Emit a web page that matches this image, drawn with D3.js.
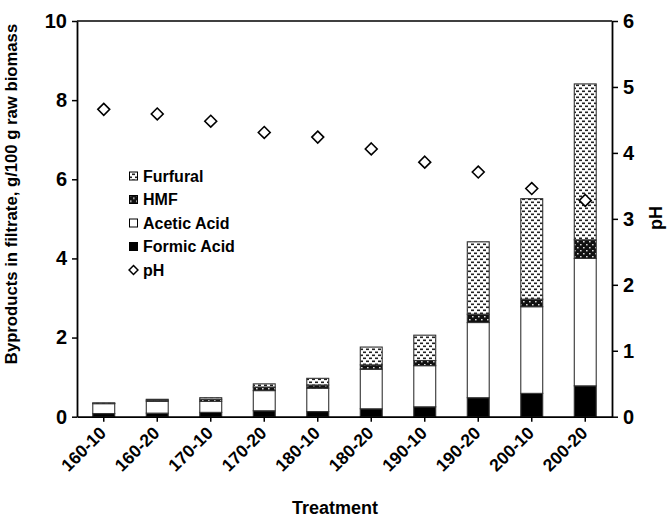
<!DOCTYPE html>
<html>
<head>
<meta charset="utf-8">
<script src="https://cdn.jsdelivr.net/npm/d3@7/dist/d3.min.js"></script>
<style>
  html, body { margin: 0; padding: 0; background: #fff; }
  svg { display: block; font-family: "Liberation Sans", Arial, sans-serif; font-weight: bold; }
</style>
</head>
<body>
<svg id="chart" width="670" height="520"></svg>
<script>
// Treatments (temperature-time) along the x axis
const categories = ["160-10","160-20","170-10","170-20","180-10","180-20","190-10","190-20","200-10","200-20"];
// Byproducts, g/100 g raw biomass (stacked bottom to top)
const formic   = [0.08, 0.09, 0.11, 0.15, 0.13, 0.20, 0.25, 0.48, 0.59, 0.78];
const acetic   = [0.25, 0.30, 0.28, 0.51, 0.59, 1.00, 1.04, 1.90, 2.19, 3.22];
const hmf      = [0.01, 0.03, 0.05, 0.09, 0.08, 0.11, 0.13, 0.21, 0.19, 0.47];
const furfural = [0.01, 0.02, 0.04, 0.08, 0.17, 0.45, 0.64, 1.83, 2.54, 3.94];
// Filtrate pH (right axis)
const pH = [4.66, 4.59, 4.48, 4.31, 4.24, 4.06, 3.86, 3.71, 3.46, 3.28];
// Axis ticks
const leftTicks = [0, 2, 4, 6, 8, 10];
const rightTicks = [0, 1, 2, 3, 4, 5, 6];

const seriesKeys = ["formic", "acetic", "hmf", "furfural"];
const seriesNames = { formic: "Formic Acid", acetic: "Acetic Acid", hmf: "HMF", furfural: "Furfural" };
const seriesFill = { formic: "#000", acetic: "#fff", hmf: "url(#hmfPat)", furfural: "url(#furPat)" };

const rows = categories.map((c, i) => ({
  cat: c, formic: formic[i], acetic: acetic[i], hmf: hmf[i], furfural: furfural[i]
}));

const svg = d3.select("#chart");
svg.append("rect").attr("width", 670).attr("height", 520).attr("fill", "#fff");

// Fill patterns
const defs = svg.append("defs");
const fp = defs.append("pattern").attr("id", "furPat").attr("patternUnits", "userSpaceOnUse")
  .attr("width", 6).attr("height", 6);
fp.append("rect").attr("width", 6).attr("height", 6).attr("fill", "#fff");
fp.append("rect").attr("x", 0).attr("y", 0.5).attr("width", 3).attr("height", 1.6).attr("fill", "#222");
fp.append("rect").attr("x", 3).attr("y", 3.5).attr("width", 3).attr("height", 1.6).attr("fill", "#222");

const hp = defs.append("pattern").attr("id", "hmfPat").attr("patternUnits", "userSpaceOnUse")
  .attr("width", 6).attr("height", 6);
hp.append("rect").attr("width", 6).attr("height", 6).attr("fill", "#111");
hp.append("rect").attr("x", 1).attr("y", 1).attr("width", 1.6).attr("height", 1.4).attr("fill", "#ddd");
hp.append("rect").attr("x", 4).attr("y", 4).attr("width", 1.6).attr("height", 1.4).attr("fill", "#ddd");

const plot = { left: 77, right: 612, top: 21, bottom: 416.7 };

const x = d3.scaleBand().domain(categories)
  .range([plot.left, plot.right]).paddingInner(0.59).paddingOuter(0.295);
const y = d3.scaleLinear().domain([0, 10]).range([plot.bottom, plot.top]);
const y2 = d3.scaleLinear().domain([0, 6]).range([plot.bottom, plot.top]);

// Stacked bars
const stack = d3.stack().keys(seriesKeys)(rows);
const layers = svg.append("g").selectAll("g").data(stack).join("g")
  .attr("fill", d => seriesFill[d.key]);
layers.selectAll("rect").data(d => d).join("rect")
  .attr("x", d => x(d.data.cat))
  .attr("width", x.bandwidth())
  .attr("y", d => y(d[1]))
  .attr("height", d => y(d[0]) - y(d[1]))
  .attr("stroke", "#333")
  .attr("stroke-width", 1.1);

// pH markers
const diamond = d3.symbol().type(d3.symbolDiamond2).size(90);
svg.append("g").selectAll("path").data(pH).join("path")
  .attr("d", diamond)
  .attr("transform", (d, i) => `translate(${x(categories[i]) + x.bandwidth() / 2},${y2(d)})`)
  .attr("fill", "#fff").attr("stroke", "#000").attr("stroke-width", 1.6);

// Frame top line
svg.append("line").attr("x1", plot.left).attr("x2", plot.right)
  .attr("y1", plot.top).attr("y2", plot.top).attr("stroke", "#000").attr("stroke-width", 1.5);

// Axes
const FONT = "Liberation Sans, Arial, sans-serif";
function styleAxis(g) {
  g.selectAll(".domain").attr("stroke", "#000").attr("stroke-width", 1.8);
  g.selectAll(".tick line").attr("stroke", "#000").attr("stroke-width", 1.5);
  g.selectAll("text").attr("fill", "#000").attr("font-weight", "bold").attr("font-family", FONT);
}

svg.append("g").attr("transform", `translate(${plot.left},0)`)
  .call(d3.axisLeft(y).tickValues(leftTicks).tickFormat(d3.format("d")).tickSize(5).tickSizeOuter(0).tickPadding(5))
  .call(styleAxis)
  .selectAll("text").attr("font-size", 20);

svg.append("g").attr("transform", `translate(${plot.right},0)`)
  .call(d3.axisRight(y2).tickValues(rightTicks).tickFormat(d3.format("d")).tickSize(6).tickSizeOuter(0).tickPadding(5))
  .call(styleAxis)
  .selectAll("text").attr("font-size", 20);

const xAxis = svg.append("g").attr("transform", `translate(0,${plot.bottom})`)
  .call(d3.axisBottom(x).tickSize(5).tickSizeOuter(0))
  .call(styleAxis);
xAxis.selectAll("text")
  .attr("font-size", 17.5)
  .attr("text-anchor", "end")
  .attr("x", 0).attr("y", 0)
  .attr("dy", "0.35em")
  .attr("transform", "translate(-1,13) rotate(-45)");

// Axis titles
svg.append("text").attr("x", 335).attr("y", 514).attr("text-anchor", "middle")
  .attr("font-size", 18).text("Treatment");
svg.append("text").attr("transform", "translate(17,194) rotate(-90)").attr("text-anchor", "middle")
  .attr("font-size", 16.7).text("Byproducts in filtrate, g/100 g raw biomass");
svg.append("text").attr("transform", "translate(662,218) rotate(-90)").attr("text-anchor", "middle")
  .attr("font-size", 18).text("pH");

// Legend
const legendItems = ["furfural", "hmf", "acetic", "formic", "pH"];
const lg = svg.append("g").attr("transform", "translate(129,176)");
legendItems.forEach((k, i) => {
  const row = lg.append("g").attr("transform", `translate(0,${i * 23.5})`);
  if (k === "pH") {
    row.append("path").attr("d", d3.symbol().type(d3.symbolDiamond2).size(50))
      .attr("transform", "translate(4.5,0)")
      .attr("fill", "#fff").attr("stroke", "#000").attr("stroke-width", 1.5);
  } else {
    row.append("rect").attr("x", 0.5).attr("y", -4).attr("width", 8).attr("height", 8)
      .attr("fill", seriesFill[k]).attr("stroke", "#000").attr("stroke-width", 1);
  }
  row.append("text").attr("x", 14).attr("y", 0).attr("dy", "0.35em")
    .attr("font-size", 16).text(k === "pH" ? "pH" : seriesNames[k]);
});
</script>
</body>
</html>
